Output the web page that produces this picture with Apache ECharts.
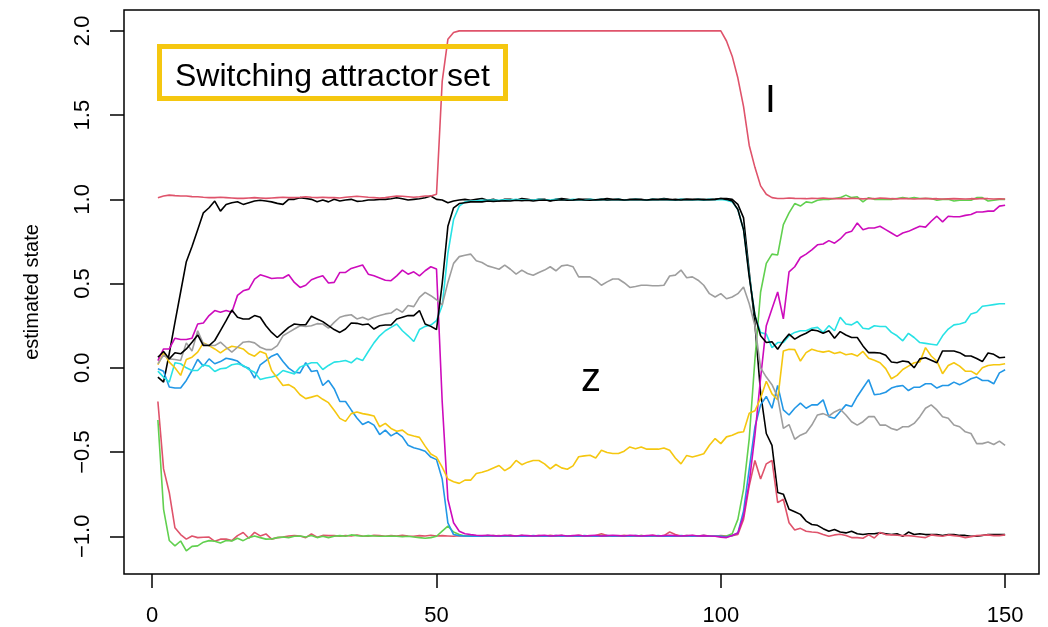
<!DOCTYPE html>
<html>
<head>
<meta charset="utf-8">
<script src="https://cdn.jsdelivr.net/npm/echarts@6/dist/echarts.min.js"></script>
<style>
html,body{margin:0;padding:0;background:#fff;}
#chart{width:1048px;height:627px;}
</style>
</head>
<body>
<div id="chart"></div>
<script>
// ---- data (time steps 1..150) ----
var xTicks = [0, 50, 100, 150];
var yTicks = [-1, -0.5, 0, 0.5, 1, 1.5, 2];

var blackA = [
-0.055,-0.085,0.085,0.27,0.45,0.63,0.72,0.82,0.92,0.95,
0.99,0.93,0.97,0.98,0.986,0.97,0.98,0.99,0.995,0.99,
0.985,0.976,0.97,1.0,1.0,1.01,1.005,1.0,0.986,0.996,
0.985,1.0,0.99,0.996,1.0,0.988,0.99,0.996,0.996,1.0,
1.0,1.004,1.01,1.004,0.996,1.0,1.004,1.01,1.02,1.0,
0.996,0.98,0.99,0.996,1.0,0.995,1.0,1.005,0.995,1.0,
0.99,1.0,1.0,0.995,1.005,1.0,0.995,1.0,1.0,0.99,
1.0,1.005,1.0,0.995,1.0,1.0,1.0,0.995,1.0,1.005,
1.0,1.0,0.995,1.0,1.0,1.0,0.995,1.0,1.0,1.005,
1.0,0.995,1.0,1.0,1.0,1.0,0.995,1.0,1.0,1.005,
1.005,1.0,0.97,0.89,0.57,0.26,-0.15,-0.39,-0.46,-0.74,
-0.75,-0.84,-0.855,-0.87,-0.91,-0.93,-0.935,-0.955,-0.97,-0.96,
-0.975,-0.98,-0.97,-0.985,-0.99,-0.985,-0.985,-0.98,-0.985,-0.99,
-0.985,-1.0,-0.975,-0.99,-0.985,-0.99,-0.99,-0.99,-0.995,-0.99,
-0.99,-0.995,-0.995,-1.0,-1.0,-0.995,-0.99,-0.99,-0.99,-0.99];

var redLow = [
-0.2,-0.6,-0.74,-0.95,-0.99,-1.017,-0.998,-1.008,-1.006,-1.005,
-1.03,-1.017,-1.017,-1.026,-0.996,-0.978,-1.012,-0.977,-0.998,-0.986,
-1.017,-1.008,-1.005,-0.998,-0.996,-0.998,-1.008,-0.986,-1.006,-0.995,
-0.996,-0.996,-1.0,-0.995,-0.998,-0.992,-0.998,-1.0,-0.994,-0.996,
-1.0,-0.996,-0.998,-0.994,-0.998,-1.0,-0.996,-0.998,-0.994,-0.998,
-0.996,-0.998,-1.0,-0.996,-0.998,-0.994,-0.998,-1.0,-0.996,-0.998,
-0.996,-1.0,-0.994,-0.998,-0.996,-1.0,-0.998,-0.996,-1.0,-0.994,
-0.998,-0.996,-1.0,-0.998,-0.994,-0.998,-1.0,-0.996,-0.985,-0.996,
-1.0,-0.998,-0.994,-0.998,-1.0,-0.996,-0.998,-0.994,-0.998,-0.996,
-0.975,-0.99,-0.998,-1.0,-0.996,-0.998,-0.994,-0.998,-1.0,-0.996,
-0.998,-0.996,-0.99,-0.9,-0.7,-0.55,-0.66,-0.57,-0.55,-0.8,
-0.78,-0.92,-0.963,-0.953,-0.97,-0.975,-0.978,-0.99,-1.0,-0.992,
-0.988,-0.995,-1.008,-1.008,-1.012,-0.992,-1.01,-0.977,-0.99,-0.992,
-0.994,-0.996,-0.996,-1.0,-1.004,-1.008,-0.992,-0.996,-1.0,-0.992,
-0.996,-1.0,-1.008,-1.002,-0.996,-0.994,-0.992,-0.996,-0.996,-0.992];

var green = [
-0.31,-0.84,-1.025,-1.057,-1.028,-1.087,-1.06,-1.057,-1.035,-1.026,
-1.03,-1.04,-1.025,-1.028,-1.012,-1.026,-1.008,-0.998,-1.008,-1.017,
-1.016,-1.008,-1.004,-1.008,-1.0,-0.998,-1.004,-0.996,-1.008,-1.0,
-1.008,-1.0,-0.996,-1.0,-0.992,-0.996,-1.0,-0.996,-0.998,-1.0,
-1.0,-0.998,-1.0,-1.002,-1.0,-1.004,-1.008,-1.012,-1.008,-1.0,
-0.97,-0.94,-0.975,-0.99,-0.998,-1.0,-1.0,-0.998,-1.0,-0.996,
-1.0,-0.998,-1.0,-1.0,-0.996,-1.0,-0.998,-1.0,-1.0,-0.998,
-1.0,-0.996,-1.0,-0.998,-1.0,-1.0,-0.998,-1.0,-0.996,-1.0,
-0.998,-1.0,-1.0,-0.998,-1.0,-0.996,-1.0,-1.0,-0.998,-1.0,
-1.0,-0.998,-1.0,-0.996,-1.0,-1.0,-0.998,-1.0,-1.0,-1.0,
-0.998,-0.985,-0.9,-0.72,-0.42,0.05,0.45,0.62,0.675,0.67,
0.85,0.92,0.975,0.96,0.985,0.98,0.995,1.0,1.0,1.005,
1.01,1.025,1.01,1.015,0.985,1.01,1.0,1.0,1.0,1.0,
1.005,1.01,1.005,1.01,1.005,1.005,1.005,0.995,1.0,1.0,
0.99,0.995,0.995,0.995,1.01,1.01,0.99,0.995,1.0,1.0];

var blue = [
-0.006,-0.02,-0.114,-0.12,-0.12,-0.075,-0.016,0.05,0.01,0.053,
0.024,0.037,0.057,0.05,0.04,0.01,-0.002,-0.061,0.018,0.043,
0.069,0.083,0.037,-0.002,-0.026,-0.03,0.03,-0.022,-0.016,-0.105,
-0.075,-0.124,-0.2,-0.2,-0.25,-0.298,-0.337,-0.32,-0.34,-0.396,
-0.37,-0.404,-0.385,-0.41,-0.46,-0.475,-0.483,-0.495,-0.53,-0.545,
-0.66,-0.92,-0.99,-0.996,-0.998,-1.0,-0.998,-1.0,-0.996,-0.998,
-1.0,-0.998,-0.996,-1.0,-0.998,-1.0,-0.996,-0.998,-1.0,-0.998,
-0.996,-1.0,-0.998,-0.998,-1.0,-0.996,-0.998,-1.0,-0.998,-0.996,
-1.0,-0.998,-0.998,-1.0,-0.996,-0.998,-1.0,-0.998,-0.996,-1.0,
-0.998,-1.0,-0.996,-0.998,-1.0,-0.998,-0.996,-1.0,-0.998,-1.0,
-1.005,-0.995,-0.98,-0.85,-0.6,-0.35,-0.22,-0.17,-0.24,-0.105,
-0.25,-0.28,-0.24,-0.21,-0.24,-0.22,-0.22,-0.19,-0.29,-0.30,
-0.26,-0.22,-0.23,-0.17,-0.12,-0.07,-0.16,-0.155,-0.145,-0.12,
-0.11,-0.105,-0.135,-0.115,-0.115,-0.095,-0.095,-0.12,-0.105,-0.105,
-0.085,-0.1,-0.085,-0.065,-0.055,-0.075,-0.075,-0.095,-0.03,-0.012];

var cyan = [
-0.02,-0.055,-0.085,0.03,0.024,0.0,-0.016,-0.016,0.018,0.01,
-0.022,-0.006,-0.002,0.018,0.024,0.014,-0.01,-0.026,-0.07,-0.061,
-0.055,-0.045,-0.016,-0.026,-0.036,0.004,0.018,0.03,0.03,-0.01,
0.014,0.034,0.037,0.043,0.03,0.057,0.043,0.097,0.148,0.19,
0.22,0.24,0.26,0.22,0.19,0.156,0.227,0.246,0.254,0.28,
0.37,0.68,0.88,0.96,0.985,0.99,0.992,0.995,0.994,0.996,
0.995,0.998,0.996,1.0,0.996,0.998,0.995,1.0,0.998,0.996,
1.0,0.998,0.996,1.0,0.998,0.996,1.0,0.998,1.0,0.996,
0.998,1.0,0.996,0.998,1.0,0.998,0.996,1.0,0.998,1.0,
0.996,0.998,1.0,0.998,0.996,1.0,0.998,1.0,0.998,1.0,
0.995,0.985,0.94,0.82,0.55,0.31,0.21,0.20,0.12,0.15,
0.15,0.19,0.21,0.22,0.22,0.235,0.24,0.21,0.25,0.22,
0.30,0.26,0.255,0.275,0.235,0.23,0.25,0.245,0.245,0.21,
0.19,0.16,0.205,0.18,0.15,0.145,0.14,0.135,0.19,0.23,
0.255,0.26,0.27,0.32,0.33,0.365,0.37,0.375,0.38,0.38];

var magenta = [
0.043,0.112,0.112,0.176,0.168,0.168,0.176,0.26,0.266,0.31,
0.34,0.33,0.34,0.33,0.43,0.457,0.467,0.527,0.552,0.542,
0.53,0.533,0.533,0.552,0.507,0.477,0.49,0.523,0.536,0.546,
0.503,0.507,0.566,0.566,0.59,0.60,0.61,0.556,0.546,0.533,
0.52,0.517,0.546,0.58,0.556,0.57,0.546,0.576,0.60,0.586,
-0.2,-0.78,-0.92,-0.97,-0.985,-0.99,-0.994,-0.996,-0.994,-0.996,
-0.998,-0.994,-0.996,-0.998,-0.994,-0.996,-0.998,-0.996,-0.994,-0.998,
-0.996,-0.994,-0.998,-0.996,-0.994,-0.998,-0.996,-0.994,-0.998,-0.996,
-0.994,-0.996,-0.998,-0.994,-0.996,-0.998,-0.996,-0.994,-0.998,-0.996,
-0.994,-0.996,-0.998,-0.996,-0.994,-0.998,-0.996,-0.998,-1.0,-1.005,
-1.008,-0.995,-0.98,-0.88,-0.68,-0.4,-0.06,0.25,0.35,0.45,
0.29,0.57,0.6,0.655,0.675,0.70,0.73,0.735,0.755,0.74,
0.765,0.80,0.81,0.86,0.82,0.83,0.83,0.84,0.82,0.80,
0.78,0.80,0.81,0.826,0.84,0.835,0.87,0.9,0.866,0.9,
0.897,0.897,0.905,0.91,0.925,0.925,0.93,0.93,0.96,0.965];

var gold = [
0.018,0.089,0.034,0.0,-0.045,0.049,0.063,0.093,0.148,0.132,
0.112,0.089,0.112,0.128,0.122,0.112,0.083,0.069,0.097,0.083,
-0.016,-0.061,-0.105,-0.1,-0.12,-0.16,-0.183,-0.174,-0.164,-0.187,
-0.207,-0.252,-0.30,-0.318,-0.272,-0.262,-0.272,-0.278,-0.286,-0.35,
-0.33,-0.36,-0.377,-0.37,-0.396,-0.405,-0.413,-0.465,-0.512,-0.53,
-0.59,-0.66,-0.676,-0.686,-0.667,-0.667,-0.627,-0.62,-0.61,-0.595,
-0.58,-0.61,-0.59,-0.55,-0.575,-0.56,-0.55,-0.55,-0.57,-0.6,
-0.574,-0.594,-0.602,-0.582,-0.528,-0.523,-0.519,-0.535,-0.49,-0.503,
-0.509,-0.509,-0.495,-0.47,-0.48,-0.47,-0.483,-0.483,-0.483,-0.476,
-0.49,-0.535,-0.57,-0.52,-0.53,-0.52,-0.51,-0.46,-0.42,-0.45,
-0.41,-0.40,-0.385,-0.38,-0.27,-0.255,-0.18,-0.08,-0.155,-0.19,
0.10,0.11,0.108,0.04,0.09,0.11,0.10,0.093,0.10,0.085,
0.093,0.077,0.083,0.07,0.097,0.057,0.045,0.03,-0.005,-0.065,
-0.045,-0.01,0.01,0.03,0.035,0.12,0.07,0.04,-0.035,0.014,
0.03,0.01,-0.02,-0.02,-0.04,0.0,0.014,0.018,0.018,0.024];

var gray = [
0.024,0.075,0.053,0.049,0.043,0.148,0.10,0.22,0.142,0.132,
0.132,0.152,0.122,0.093,0.122,0.152,0.156,0.148,0.122,0.108,
0.108,0.132,0.19,0.21,0.23,0.25,0.245,0.25,0.262,0.26,
0.235,0.27,0.30,0.31,0.315,0.29,0.30,0.285,0.30,0.31,
0.32,0.325,0.35,0.33,0.37,0.363,0.418,0.448,0.428,0.404,
0.373,0.507,0.62,0.66,0.668,0.675,0.635,0.625,0.605,0.596,
0.585,0.61,0.585,0.556,0.58,0.56,0.55,0.566,0.58,0.6,
0.576,0.605,0.61,0.6,0.54,0.54,0.54,0.52,0.49,0.51,
0.527,0.527,0.505,0.477,0.483,0.49,0.49,0.487,0.487,0.49,
0.545,0.55,0.58,0.535,0.54,0.52,0.49,0.44,0.42,0.44,
0.41,0.42,0.44,0.48,0.38,0.25,0.0,-0.055,-0.1,-0.174,
-0.36,-0.337,-0.424,-0.40,-0.385,-0.34,-0.28,-0.272,-0.286,-0.262,
-0.246,-0.28,-0.32,-0.34,-0.32,-0.29,-0.29,-0.34,-0.34,-0.36,
-0.37,-0.35,-0.35,-0.33,-0.29,-0.24,-0.22,-0.25,-0.29,-0.30,
-0.34,-0.35,-0.38,-0.39,-0.45,-0.45,-0.44,-0.455,-0.435,-0.46];

var blackB = [
0.063,0.097,0.053,0.089,0.083,0.112,0.152,0.195,0.132,0.132,
0.162,0.221,0.28,0.343,0.30,0.29,0.29,0.31,0.30,0.25,
0.21,0.18,0.21,0.24,0.26,0.256,0.256,0.306,0.29,0.274,
0.25,0.227,0.21,0.23,0.266,0.264,0.256,0.26,0.23,0.25,
0.254,0.254,0.29,0.30,0.31,0.31,0.34,0.26,0.246,0.227,
0.5,0.84,0.95,0.975,0.98,0.985,0.986,0.985,0.99,0.988,
0.99,0.992,0.99,0.995,0.992,0.995,0.99,0.995,0.996,0.992,
0.995,0.998,0.995,0.996,1.0,0.996,0.995,0.998,1.0,0.996,
0.998,1.0,0.996,0.998,1.0,0.998,0.996,1.0,0.998,1.0,
0.998,1.0,0.996,1.0,0.998,1.0,1.0,0.998,1.0,1.005,
1.0,0.99,0.94,0.82,0.54,0.31,0.19,0.15,0.155,0.11,
0.16,0.2,0.17,0.19,0.205,0.225,0.22,0.205,0.22,0.175,
0.215,0.195,0.18,0.18,0.13,0.09,0.09,0.088,0.075,0.034,
0.03,0.04,0.035,0.0,0.053,0.06,0.045,0.03,0.1,0.1,
0.1,0.09,0.07,0.07,0.055,0.037,0.088,0.08,0.06,0.063];

var redTop = [
1.01,1.02,1.025,1.022,1.02,1.02,1.016,1.015,1.012,1.01,
1.01,1.012,1.01,1.008,1.006,1.006,1.008,1.01,1.008,1.006,
1.008,1.01,1.012,1.01,1.01,1.012,1.015,1.012,1.01,1.012,
1.01,1.01,1.008,1.012,1.015,1.018,1.015,1.012,1.01,1.008,
1.01,1.015,1.02,1.018,1.015,1.012,1.015,1.02,1.02,1.03,
1.7,1.95,1.99,2.0,2.0,2.0,2.0,2.0,2.0,2.0,
2.0,2.0,2.0,2.0,2.0,2.0,2.0,2.0,2.0,2.0,
2.0,2.0,2.0,2.0,2.0,2.0,2.0,2.0,2.0,2.0,
2.0,2.0,2.0,2.0,2.0,2.0,2.0,2.0,2.0,2.0,
2.0,2.0,2.0,2.0,2.0,2.0,2.0,2.0,2.0,2.0,
1.94,1.85,1.72,1.55,1.32,1.19,1.08,1.03,1.01,1.005,
1.005,1.008,1.006,1.005,1.004,1.006,1.005,1.008,1.005,1.004,
1.005,1.004,1.006,1.005,1.003,1.005,1.004,1.008,1.006,1.004,
1.003,1.005,1.004,1.002,1.004,1.006,1.003,1.004,1.002,1.003,
1.004,1.003,1.002,1.004,1.003,1.005,1.004,1.002,1.003,1.002];

// drawing order (later on top) and colours (R default palette)
var seriesList = [
  {name:'blackA', data:blackA, color:'#000000'},
  {name:'redLow', data:redLow, color:'#DF536B'},
  {name:'green', data:green, color:'#61D04F'},
  {name:'blue', data:blue, color:'#2297E6'},
  {name:'cyan', data:cyan, color:'#28E2E5'},
  {name:'magenta', data:magenta, color:'#CD0BBC'},
  {name:'gold', data:gold, color:'#F5C710'},
  {name:'gray', data:gray, color:'#9E9E9E'},
  {name:'blackB', data:blackB, color:'#000000'},
  {name:'redTop', data:redTop, color:'#DF536B'}
];

var FONT = '"Liberation Sans", Arial, Helvetica, sans-serif';

function toPairs(arr){
  var out = [];
  for (var i = 0; i < arr.length; i++) out.push([i + 1, arr[i]]);
  return out;
}

var chart = echarts.init(document.getElementById('chart'), null, {renderer:'canvas'});

var option = {
  animation: false,
  backgroundColor: '#ffffff',
  grid: {
    left: 124, top: 10, width: 915, height: 564,
    show: true, borderColor: '#000', borderWidth: 1.5, backgroundColor: 'transparent'
  },
  xAxis: {
    type: 'value',
    position: 'bottom',
    min: -4.96, max: 155.96,
    axisLine: {show: false, onZero: false},
    splitLine: {show: false},
    axisTick: {show: true, length: 14, inside: false, customValues: xTicks,
               lineStyle: {color: '#000', width: 1.5}},
    axisLabel: {show: true, customValues: xTicks, fontSize: 22, color: '#000',
                fontFamily: FONT, margin: 31}
  },
  yAxis: {
    type: 'value',
    position: 'left',
    min: -1.224, max: 2.124,
    name: 'estimated state',
    nameLocation: 'middle',
    nameRotate: 90,
    nameGap: 82,
    nameTextStyle: {fontSize: 20, color: '#000', fontFamily: FONT},
    axisLine: {show: false, onZero: false},
    splitLine: {show: false},
    axisTick: {show: true, length: 14, inside: false, customValues: yTicks,
               lineStyle: {color: '#000', width: 1.5}},
    axisLabel: {show: true, customValues: yTicks, fontSize: 22, color: '#000',
                fontFamily: FONT, rotate: 90, margin: 30,
                formatter: function(v){ return v.toFixed(1).replace('-', '\u2212'); }}
  },
  graphic: [
    {type: 'rect', z: 100,
     shape: {x: 159.5, y: 46.5, width: 346, height: 52},
     style: {fill: 'none', stroke: '#F5C710', lineWidth: 5}},
    {type: 'text', z: 101, left: 175, top: 61,
     style: {text: 'Switching attractor set', fill: '#000', font: '32px ' + FONT}},
    {type: 'text', z: 101, left: 765, top: 82,
     style: {text: 'I', fill: '#000', font: '39px ' + FONT}},
    {type: 'text', z: 101, left: 581, top: 360,
     style: {text: 'z', fill: '#000', font: '40px ' + FONT}}
  ],
  series: seriesList.map(function(s){
    return {
      name: s.name, type: 'line', data: toPairs(s.data),
      showSymbol: false, symbol: 'none', silent: true,
      lineStyle: {color: s.color, width: 1.6},
      itemStyle: {color: s.color}
    };
  })
};
chart.setOption(option);
</script>
</body>
</html>
